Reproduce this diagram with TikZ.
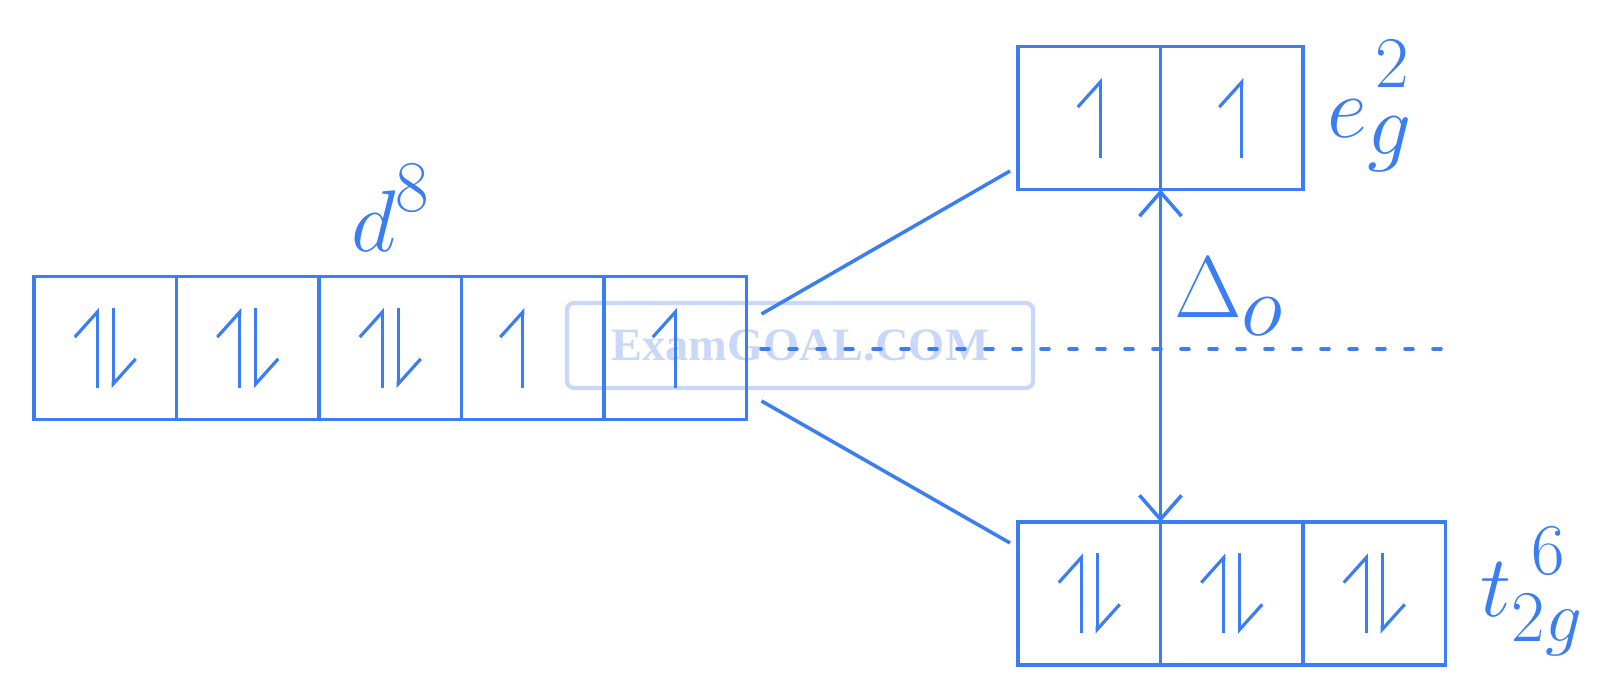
\documentclass[tikz,border=0pt]{standalone}
\usepackage{fontspec}
\newfontfamily\wmfont{Liberation Serif}
\usetikzlibrary{arrows.meta,positioning,calc}
\definecolor{orb}{HTML}{3B7DF2}
\definecolor{wmblue}{HTML}{C9D8F8}
\newcommand\scr[1]{{\fontsize{20}{20}\selectfont$#1$}}
\tikzset{
  orbbox/.style={draw=orb,line width=1pt,minimum width=1.425cm,minimum height=1.43cm,inner sep=0pt,outer sep=0pt},
  spin/.style={orb,line width=0.9pt,-{Straight Barb[harpoon,length=2.5mm,width=4.5mm]}},
  lbl/.style={text=orb,inner sep=0pt,font=\fontsize{24}{24}\selectfont},
  split/.style={orb,line width=1pt},
  gapline/.style={orb,line width=1pt,{Straight Barb[length=2.4mm,width=4.2mm]}-{Straight Barb[length=2.4mm,width=4.2mm]}},
  dotline/.style={orb,line width=1.3pt,line cap=round,dash pattern=on 0.7mm off 2.1mm},
  wmark/.style={draw=wmblue,line width=1.2pt,rounded corners=2pt,minimum width=4.66cm,minimum height=0.85cm,text=wmblue,font=\wmfont\bfseries\fontsize{13.2}{13.2}\selectfont}
}
\begin{document}
\begin{tikzpicture}
\useasboundingbox (0,0) rectangle (16,6.91);
\node[wmark] (wm) at (8,3.455) {ExamGOAL.COM};
\node[orbbox] (d1) at (1.0525,3.43) {};
\node[orbbox,right=0pt of d1] (d2) {};
\node[orbbox,right=0pt of d2] (d3) {};
\node[orbbox,right=0pt of d3] (d4) {};
\node[orbbox,right=0pt of d4] (d5) {};
\node[orbbox] (eg1) at (10.8925,5.73) {};
\node[orbbox,right=0pt of eg1] (eg2) {};
\node[orbbox] (t1) at (10.8925,0.975) {};
\node[orbbox,right=0pt of t1] (t2) {};
\node[orbbox,right=0pt of t2] (t3) {};
\foreach \b in {d1,d2,d3,t1,t2,t3}{
  \draw[spin] ([shift={(-0.08,-0.4)}]\b.center) -- ++(0,0.8);
  \draw[spin] ([shift={(0.08,0.4)}]\b.center) -- ++(0,-0.8);
}
\foreach \b/\dx in {d4/-0.1,d5/0,eg1/0.11,eg2/0.1}
  \draw[spin] ([shift={(\dx,-0.4)}]\b.center) -- ++(0,0.8);
\node[lbl,above=0.24cm of d3] (dlab) {$d$\raisebox{0.4cm}{\scr{8}}};
\node[lbl,anchor=base west] (eglab) at ($(eg2.east)+(0.24,-0.2)$) {$e$\rlap{\hspace{0.08cm}\raisebox{0.5cm}{\scr{2}}}\raisebox{-0.17cm}{$g$}};
\node[lbl,anchor=base west] (tlab) at ($(t3.east)+(0.345,-0.235)$) {$t$\rlap{\hspace{0.2cm}\raisebox{0.42cm}{\scr{6}}}\raisebox{-0.25cm}{\scr{2g}}};
\coordinate (top) at (eg1.south east);
\coordinate (bot) at (t1.north east);
\draw[gapline] (bot) -- (top);
\node[lbl,anchor=base west] (dlt) at ($(top)+(0.13,-1.28)$) {$\Delta$\raisebox{-0.18cm}{$o$}};
\coordinate (a1) at ($(d5.east)+(0.15,0.34)$);
\coordinate (a2) at ($(eg1.west)+(-0.08,-0.53)$);
\coordinate (b1) at ($(d5.east)+(0.15,-0.53)$);
\coordinate (b2) at ($(t1.west)+(-0.08,0.505)$);
\draw[split] (a1) -- (a2);
\draw[split] (b1) -- (b2);
\coordinate (c1) at ($(d5.east)+(0.15,-0.01)$);
\coordinate (c2) at ($(t3.east |- c1)+(0.05,0)$);
\draw[dotline] (c1) -- (c2);
\end{tikzpicture}
\end{document}
